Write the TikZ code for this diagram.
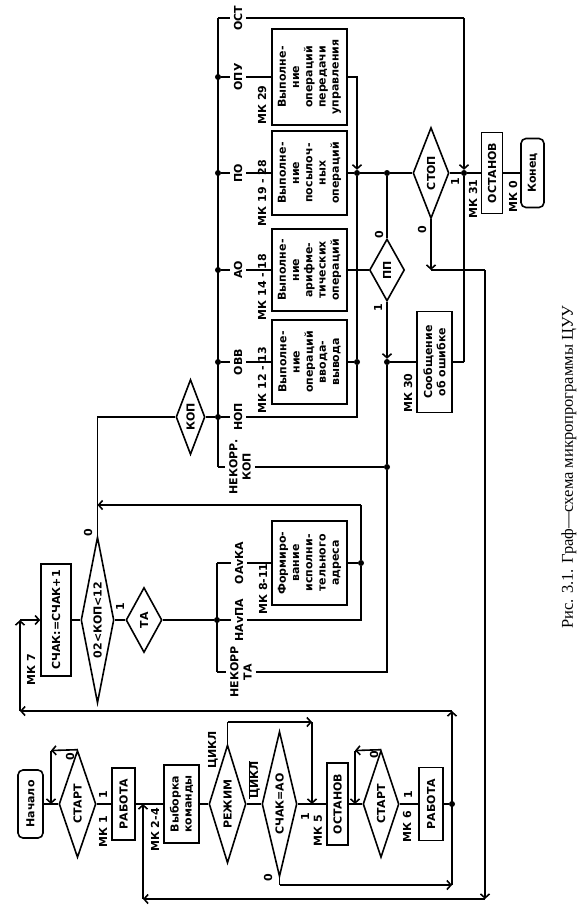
\documentclass[tikz,border=0pt]{standalone}
\usepackage{fontspec}
\usetikzlibrary{shapes.geometric,arrows.meta}
\newfontfamily\schema{DejaVu Sans}
\newfontfamily\unterschrift{Liberation Serif}
\newcommand{\schemafont}{\schema\bfseries\fontsize{11}{13.2}\selectfont}

\tikzset{
    linie/.style={line width=1.6pt},
    pfeil/.style={linie, -{Straight Barb[length=4pt,width=9pt]}},
    kasten/.style={draw, linie, rectangle, rotate=90, inner sep=1pt, align=center, font=\schemafont},
    rund/.style={kasten, rounded corners=5pt},
    raute/.style={draw, linie, diamond, rotate=90, inner sep=0pt, aspect=3, font=\schemafont},
    marke/.style={rotate=90, inner xsep=1pt, inner ysep=4pt, align=center, font=\schemafont},
    beschr/.style={rotate=90, inner sep=0pt, align=center, font=\schemafont},
    punkt/.style={circle, fill, inner sep=0pt, minimum size=6pt}
}

\begin{document}
\begin{tikzpicture}[x=1pt, y=-1pt]

        \useasboundingbox (0,0) rectangle (587,915);

        % untere Kette
        \node [rund, minimum width=68pt, minimum height=25pt] (beginn) at (30.5,804) {Начало};
        \node [raute, minimum width=107pt, minimum height=37pt] (startA) at (77.5,804) {СТАРТ};
        \node [kasten, minimum width=72pt, minimum height=23pt] (arbeitA) at (123.5,804) {РАБОТА};
        \node [kasten, minimum width=78pt, minimum height=35pt] (abruf) at (181.5,804) {Выборка\\команды};
        \node [raute, minimum width=118pt, minimum height=37pt] (modus) at (227.5,804) {РЕЖИМ};
        \node [raute, aspect=5, minimum width=145pt, minimum height=35pt] (vergleich) at (279.5,804) {СЧАК=АО};
        \node [kasten, minimum width=82pt, minimum height=21pt] (haltA) at (337.5,804) {ОСТАНОВ};
        \node [raute, minimum width=107pt, minimum height=36pt] (startB) at (381,804) {СТАРТ};
        \node [kasten, minimum width=73pt, minimum height=24pt] (arbeitB) at (431,804) {РАБОТА};
        \node [punkt] (knotenB) at (452,804) {};

        % mittlere Reihe
        \node [kasten, minimum width=112pt, minimum height=30pt] (zaehler) at (56,620) {СЧАК:=СЧАК+1};
        \node [raute, aspect=5, minimum width=166pt, minimum height=33pt] (bereich) at (97.5,620) {02<КОП<12};
        \node [raute, aspect=2, minimum width=65pt, minimum height=36pt] (ta) at (144,620) {ТА};
        \node [punkt] (knotenTA) at (217,620) {};
        \node [kasten, minimum width=84pt, minimum height=75pt] (adresse) at (309.5,563) {Формиро-\\вание\\исполни-\\тельного\\адреса};
        \node [punkt] (knotenAdr) at (361,563) {};

        % obere Reihe
        \node [raute, minimum width=75pt, minimum height=29pt] (kop) at (190.5,417) {КОП};
        \node [kasten, minimum width=96pt, minimum height=75pt] (steuer) at (309.5,77) {Выполне-\\ние\\операций\\передачи\\управления};
        \node [kasten, minimum width=84pt, minimum height=75pt] (seriell) at (309.5,173) {Выполне-\\ние\\посылоч-\\ных\\операций};
        \node [kasten, minimum width=82pt, minimum height=75pt] (arith) at (309.5,270) {Выполне-\\ние\\арифме-\\тических\\операций};
        \node [kasten, minimum width=84pt, minimum height=75pt] (einaus) at (309.5,362) {Выполне-\\ние\\операций\\ввода-\\вывода};
        \node [raute, aspect=1.8, minimum width=62pt, minimum height=35pt] (pp) at (387,270) {ПП};
        \node [kasten, minimum width=101pt, minimum height=35pt] (fehler) at (434.5,362) {Сообщение\\об ошибке};
        \node [raute, minimum width=91pt, minimum height=36pt] (stopp) at (431,173) {СТОП};
        \node [kasten, minimum width=81pt, minimum height=21pt] (haltB) at (492,173) {ОСТАНОВ};
        \node [rund, minimum width=69pt, minimum height=23pt] (ende) at (532.5,173) {Конец};

        \node [punkt] (jpo) at (357,173) {};
        \node [punkt] (jpp) at (387,173) {};
        \node [punkt] (jhalt) at (464,173) {};
        \node [punkt] (jio) at (357,362) {};
        \node [punkt] (jerr) at (387,362) {};
        \node [punkt] (jnk) at (387,467) {};

        % Verzweigung KOP
        \coordinate (kbO) at (218,18);
        \coordinate (kbU) at (218,467);
        \foreach \y in {77,173,270,362,417}
            \node [punkt] (kb\y) at (218,\y) {};
        \foreach \y/\name/\txt in {18/lost/ОСТ, 77/lopu/ОПУ, 173/lpo/ПО, 270/lao/АО, 362/lovv/ОВВ, 417/lnop/НОП}
            \node [marke] (\name) at (238,\y) {\txt};
        \node [marke] (lnk) at (240,467) {НЕКОРР.\\КОП};

        % Verzweigung TA
        \coordinate (tabO) at (217,563);
        \coordinate (tabU) at (217,672);
        \node [marke] (loaka) at (239,563) {ОАvКА};
        \node [marke] (lnapa) at (239,620) {НАvПА};
        \node [marke] (lnta) at (241,672) {НЕКОРР\\ТА};

        % Beschriftungen
        \node [beschr] (nullA) at (70,757) {0};
        \node [beschr] (einsA) at (103,795) {1};
        \node [beschr] (mkA) at (103,832) {МК 1};
        \node [beschr] (mkB) at (155,830) {МК 2-4};
        \node [beschr] (lzyklus) at (213,750) {ЦИКЛ};
        \node [beschr] (lzyklusNicht) at (254,780) {$\overline{\hbox{ЦИКЛ}}$};
        \node [beschr] (nullV) at (268,878) {0};
        \node [beschr] (einsV) at (305,817) {1};
        \node [beschr] (mkE) at (318,831) {МК 5};
        \node [beschr] (nullB) at (374,755) {0};
        \node [beschr] (einsB) at (408,795) {1};
        \node [beschr] (mkF) at (407,827) {МК 6};
        \node [beschr] (mkG) at (31,670) {МК 7};
        \node [beschr] (nullK) at (88,533) {0};
        \node [beschr] (einsK) at (120,607) {1};
        \node [beschr] (mkH) at (263,589) {МК 8-11};
        \node [beschr] (mkI) at (262,380) {МК 12 - 13};
        \node [beschr] (mkJ) at (262,287) {МК 14 - 18};
        \node [beschr] (mkK) at (262,193) {МК 19 - 28};
        \node [beschr] (mkL) at (262,105) {МК 29};
        \node [beschr] (nullP) at (379,235) {0};
        \node [beschr] (einsP) at (378,308) {1};
        \node [beschr] (mkM) at (408,393) {МК 30};
        \node [beschr] (nullS) at (422,230) {0};
        \node [beschr] (einsS) at (455,182) {1};
        \node [beschr] (mkN) at (473,199) {МК 31};
        \node [beschr] (mkO) at (513,197) {МК 0};

        \node [rotate=90, inner sep=0pt, font=\unterschrift\fontsize{16.5}{18}\selectfont] (titel) at (569,467) {Рис. 3.1. Граф—схема микропрограммы ЦУУ};

        % Hauptlinie unten
        \draw [linie] (beginn) -- (startA);
        \draw [linie] (startA) -- (arbeitA);
        \draw [linie] (arbeitA) -- (abruf);
        \draw [linie] (abruf) -- (modus);
        \draw [linie] (modus) -- (vergleich);
        \draw [linie] (vergleich) -- (haltA);
        \draw [linie] (haltA) -- (startB);
        \draw [linie] (startB) -- (arbeitB);
        \draw [linie] (arbeitB) -- (knotenB);

        % Warteschleifen START
        \coordinate (schleifeA) at (51,750.5);
        \draw [pfeil] (startA.east) -- (schleifeA);
        \draw [pfeil] (schleifeA) -- (schleifeA |- startA);
        \coordinate (schleifeB) at (355,750.5);
        \draw [pfeil] (startB.east) -- (schleifeB);
        \draw [pfeil] (schleifeB) -- (schleifeB |- startB);

        % ЦИКЛ
        \coordinate (zyklusA) at (227.5,722);
        \coordinate (zyklusB) at (312,722);
        \draw [linie] (modus.east) -- (zyklusA);
        \draw [pfeil] (zyklusA) -- (zyklusB);
        \draw [pfeil] (zyklusB) -- (zyklusB |- haltA);

        % Ruecklauf zu МК 7
        \coordinate (rueckA) at (279.5,885);
        \coordinate (rueckB) at (452,885);
        \coordinate (rueckC) at (452,711);
        \coordinate (rueckD) at (20,711);
        \coordinate (rueckE) at (20,620);
        \draw [linie] (vergleich.west) -- (rueckA);
        \draw [pfeil] (rueckA) -- (rueckB);
        \draw [pfeil] (rueckB) -- (rueckC);
        \draw [pfeil] (rueckC) -- (rueckD);
        \draw [pfeil] (rueckD) -- (rueckE);
        \draw [pfeil] (rueckE) -- (zaehler);

        % Ruecklauf von СТОП
        \coordinate (stoppA) at (431,270);
        \coordinate (stoppB) at (485,270);
        \coordinate (stoppC) at (485,899);
        \coordinate (stoppD) at (143,899);
        \draw [pfeil] (stopp.west) -- (stoppA);
        \draw [linie] (stoppA) -- (stoppB);
        \draw [pfeil] (stoppB) -- (stoppC);
        \draw [pfeil] (stoppC) -- (stoppD);
        \draw [pfeil] (stoppD) -- (stoppD |- abruf);

        % mittlere Reihe
        \draw [linie] (zaehler) -- (bereich);
        \draw [linie] (bereich) -- (ta);
        \draw [linie] (ta) -- (knotenTA);
        \draw [linie] (bereich.east) |- (kop);
        \coordinate (adrO) at (361,505);
        \coordinate (adrL) at (97.5,505);
        \draw [linie] (adresse) -- (knotenAdr);
        \draw [linie] (knotenAdr) -- (adrO);
        \draw [pfeil] (adrO) -- (adrL);
        \draw [linie] (tabO) -- (tabU);
        \draw [linie] (tabO) -- (loaka.north);
        \draw [linie] (loaka.south) -- (adresse);
        \draw [linie] (knotenTA) -- (lnapa.north);
        \draw [linie] (lnapa.south) -| (knotenAdr);
        \draw [linie] (tabU) -- (lnta.north);
        \draw [linie] (lnta.south) -| (jnk);

        % obere Reihe
        \draw [linie] (kbO) -- (kbU);
        \draw [linie] (kop) -- (kb417);
        \draw [linie] (kbO) -- (lost.north);
        \foreach \y/\name in {77/lopu, 173/lpo, 270/lao, 362/lovv, 417/lnop}
            \draw [linie] (kb\y) -- (\name.north);
        \draw [linie] (kbU) -- (lnk.north);
        \draw [linie] (lopu.south) -- (steuer);
        \draw [linie] (lpo.south) -- (seriell);
        \draw [linie] (lao.south) -- (arith);
        \draw [linie] (lovv.south) -- (einaus);

        \draw [pfeil] (steuer.south) -| (jpo);
        \draw [linie] (seriell) -- (jpo);
        \draw [linie] (jpo) -- (jpp);
        \draw [linie] (jpp) -- (stopp);
        \draw [linie] (pp.east) -- (jpp);
        \draw [linie] (arith) -- (pp);
        \draw [pfeil] (pp.west) -- (jerr);
        \draw [linie] (jerr) -- (fehler);
        \draw [linie] (einaus) -- (jio);
        \draw [linie] (lnop.south) -| (jio);
        \draw [linie] (jio) -- (jpo);
        \draw [linie] (lnk.south) -- (jnk);
        \draw [linie] (jnk) -- (jerr);

        \coordinate (ostE) at (464,18);
        \coordinate (fehlerE) at (464,362);
        \draw [linie] (lost.south) -- (ostE);
        \draw [pfeil] (ostE) -- (jhalt);
        \draw [linie] (fehler.south) -- (fehlerE);
        \draw [linie] (fehlerE) -- (jhalt);
        \draw [linie] (stopp) -- (jhalt);
        \draw [linie] (jhalt) -- (haltB);
        \draw [linie] (haltB) -- (ende);

\end{tikzpicture}
\end{document}
